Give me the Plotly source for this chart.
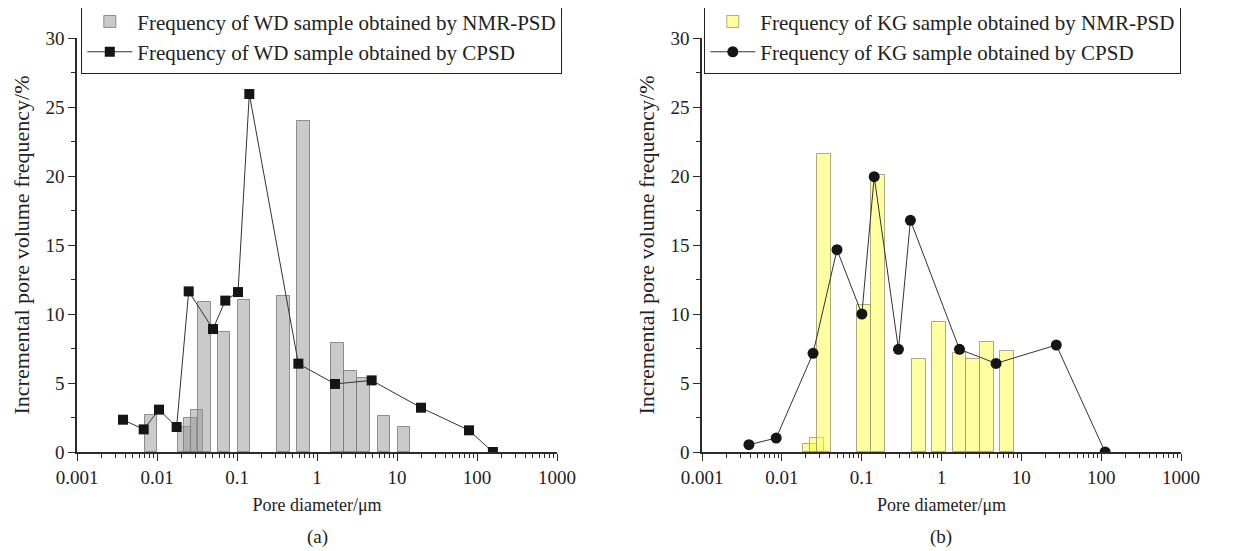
import numpy as np
import plotly.graph_objects as go

# ---- data ----
wd_bar_d = [0.0084, 0.0221, 0.026, 0.0316, 0.0389, 0.0688, 0.122, 0.385, 0.684, 1.79, 2.61, 3.83, 6.88, 12.2]
wd_bar_f = [2.68, 1.8, 2.44, 3.04, 10.9, 8.72, 11.0, 11.33, 24.0, 7.87, 5.9, 5.39, 2.63, 1.83]
wd_line_d = [0.00376, 0.00682, 0.0106, 0.0176, 0.0249, 0.0501, 0.0714, 0.103, 0.1425, 0.585, 1.68, 4.82, 19.95, 79.4, 158]
wd_line_f = [2.34, 1.64, 3.07, 1.81, 11.64, 8.91, 10.97, 11.59, 25.94, 6.4, 4.93, 5.19, 3.21, 1.57, 0]

kg_bar_d = [0.0226, 0.0275, 0.0335, 0.107, 0.161, 0.517, 0.933, 1.68, 2.49, 3.69, 6.6]
kg_bar_f = [0.55, 1.04, 21.6, 10.65, 20.07, 6.72, 9.4, 7.15, 6.77, 7.95, 7.3]
kg_line_d = [0.00387, 0.0085, 0.0246, 0.0491, 0.1006, 0.1436, 0.289, 0.408, 1.68, 4.82, 27.4, 112]
kg_line_f = [0.53, 1.01, 7.15, 14.66, 10.0, 19.95, 7.44, 16.79, 7.44, 6.42, 7.75, 0]

x_tick_vals = [0.001, 0.01, 0.1, 1, 10, 100, 1000]
x_tick_text = ["0.001", "0.01", "0.1", "1", "10", "100", "1000"]
y_tick_vals = [0, 5, 10, 15, 20, 25, 30]

FONT = "Liberation Serif, Times New Roman, serif"
AXC = "#2b2b2b"
TXT = "#222222"
W, H, OFF = 1246, 551, 8  # page body margin offset


def px(x):
    return (x - OFF) / W


def py(y):
    return 1 - (y - OFF) / H


def log_bar_geometry(centers, half_decades):
    c = np.log10(np.asarray(centers, dtype=float))
    left = 10 ** (c - half_decades)
    right = 10 ** (c + half_decades)
    return (left + right) / 2, right - left


fig = go.Figure()

wx, ww = log_bar_geometry(wd_bar_d, 0.08)
fig.add_trace(go.Bar(
    x=wx, y=wd_bar_f, width=ww, xaxis="x", yaxis="y",
    marker=dict(color="rgba(150,150,150,0.5)", line=dict(color="rgba(120,120,120,0.8)", width=1)),
    name="Frequency of WD sample obtained by NMR-PSD", legend="legend",
))
fig.add_trace(go.Scatter(
    x=wd_line_d, y=wd_line_f, xaxis="x", yaxis="y", mode="lines+markers",
    line=dict(color="#333333", width=1),
    marker=dict(symbol="square", size=10, color="#151515"),
    name="Frequency of WD sample obtained by CPSD", legend="legend",
))

kx, kw = log_bar_geometry(kg_bar_d, 0.0875)
fig.add_trace(go.Bar(
    x=kx, y=kg_bar_f, width=kw, xaxis="x2", yaxis="y2",
    marker=dict(color="rgba(255,255,70,0.5)", line=dict(color="rgba(150,150,110,0.8)", width=1)),
    name="Frequency of KG sample obtained by NMR-PSD", legend="legend2",
))
fig.add_trace(go.Scatter(
    x=kg_line_d, y=kg_line_f, xaxis="x2", yaxis="y2", mode="lines+markers",
    line=dict(color="#333333", width=1),
    marker=dict(symbol="circle", size=11, color="#151515"),
    name="Frequency of KG sample obtained by CPSD", legend="legend2",
))

minor_vals = [m * 10 ** e for e in range(-3, 3) for m in range(2, 10)]

xaxis_common = dict(
    type="log", range=[-3, 3], tickmode="array", tickvals=x_tick_vals, ticktext=x_tick_text,
    ticks="outside", ticklen=7, tickwidth=1.3, tickcolor=AXC,
    showline=True, linecolor=AXC, linewidth=1.5, showgrid=False, zeroline=False,
    minor=dict(tickmode="array", tickvals=minor_vals, ticks="outside", ticklen=4, tickwidth=1,
               tickcolor=AXC, showgrid=False),
    tickfont=dict(family=FONT, size=19, color=TXT),
    title=dict(text="Pore diameter/μm", font=dict(family=FONT, size=18, color=TXT), standoff=12),
    automargin=False,
)
yaxis_common = dict(
    range=[0, 30], tickmode="array", tickvals=y_tick_vals,
    ticks="outside", ticklen=7, tickwidth=1.3, tickcolor=AXC,
    showline=True, linecolor=AXC, linewidth=1.5, showgrid=False, zeroline=False,
    minor=dict(dtick=2.5, ticks="outside", ticklen=4, tickwidth=1, tickcolor=AXC, showgrid=False),
    tickfont=dict(family=FONT, size=19, color=TXT),
    title=dict(text="Incremental pore volume frequency/%", font=dict(family=FONT, size=22, color=TXT), standoff=10),
    automargin=False,
)

ydom = [py(452), py(38)]

fig.update_layout(
    template="none",
    width=W, height=H,
    margin=dict(l=0, r=0, t=0, b=0, autoexpand=False),
    paper_bgcolor="white", plot_bgcolor="white",
    barmode="overlay", bargap=0,
    showlegend=True,
    xaxis={**xaxis_common, "domain": [px(77), px(557)], "anchor": "y"},
    yaxis={**yaxis_common, "domain": ydom, "anchor": "x"},
    xaxis2={**xaxis_common, "domain": [px(702), px(1181)], "anchor": "y2"},
    yaxis2={**yaxis_common, "domain": ydom, "anchor": "x2"},
    legend=dict(x=px(81), y=py(0), xanchor="left", yanchor="top",
                bgcolor="white", bordercolor="#222", borderwidth=1.3,
                font=dict(family=FONT, size=21, color=TXT), itemwidth=45,
                tracegroupgap=0),
    legend2=dict(x=px(704), y=py(0), xanchor="left", yanchor="top",
                 bgcolor="white", bordercolor="#222", borderwidth=1.3,
                 font=dict(family=FONT, size=21, color=TXT), itemwidth=45,
                 tracegroupgap=0),
    annotations=[
        dict(text="(a)", x=px(317), y=py(537), xref="paper", yref="paper",
             xanchor="center", yanchor="middle",
             showarrow=False, font=dict(family=FONT, size=19, color=TXT)),
        dict(text="(b)", x=px(941), y=py(537), xref="paper", yref="paper",
             xanchor="center", yanchor="middle",
             showarrow=False, font=dict(family=FONT, size=19, color=TXT)),
    ],
)

fig.write_html("out.html")
